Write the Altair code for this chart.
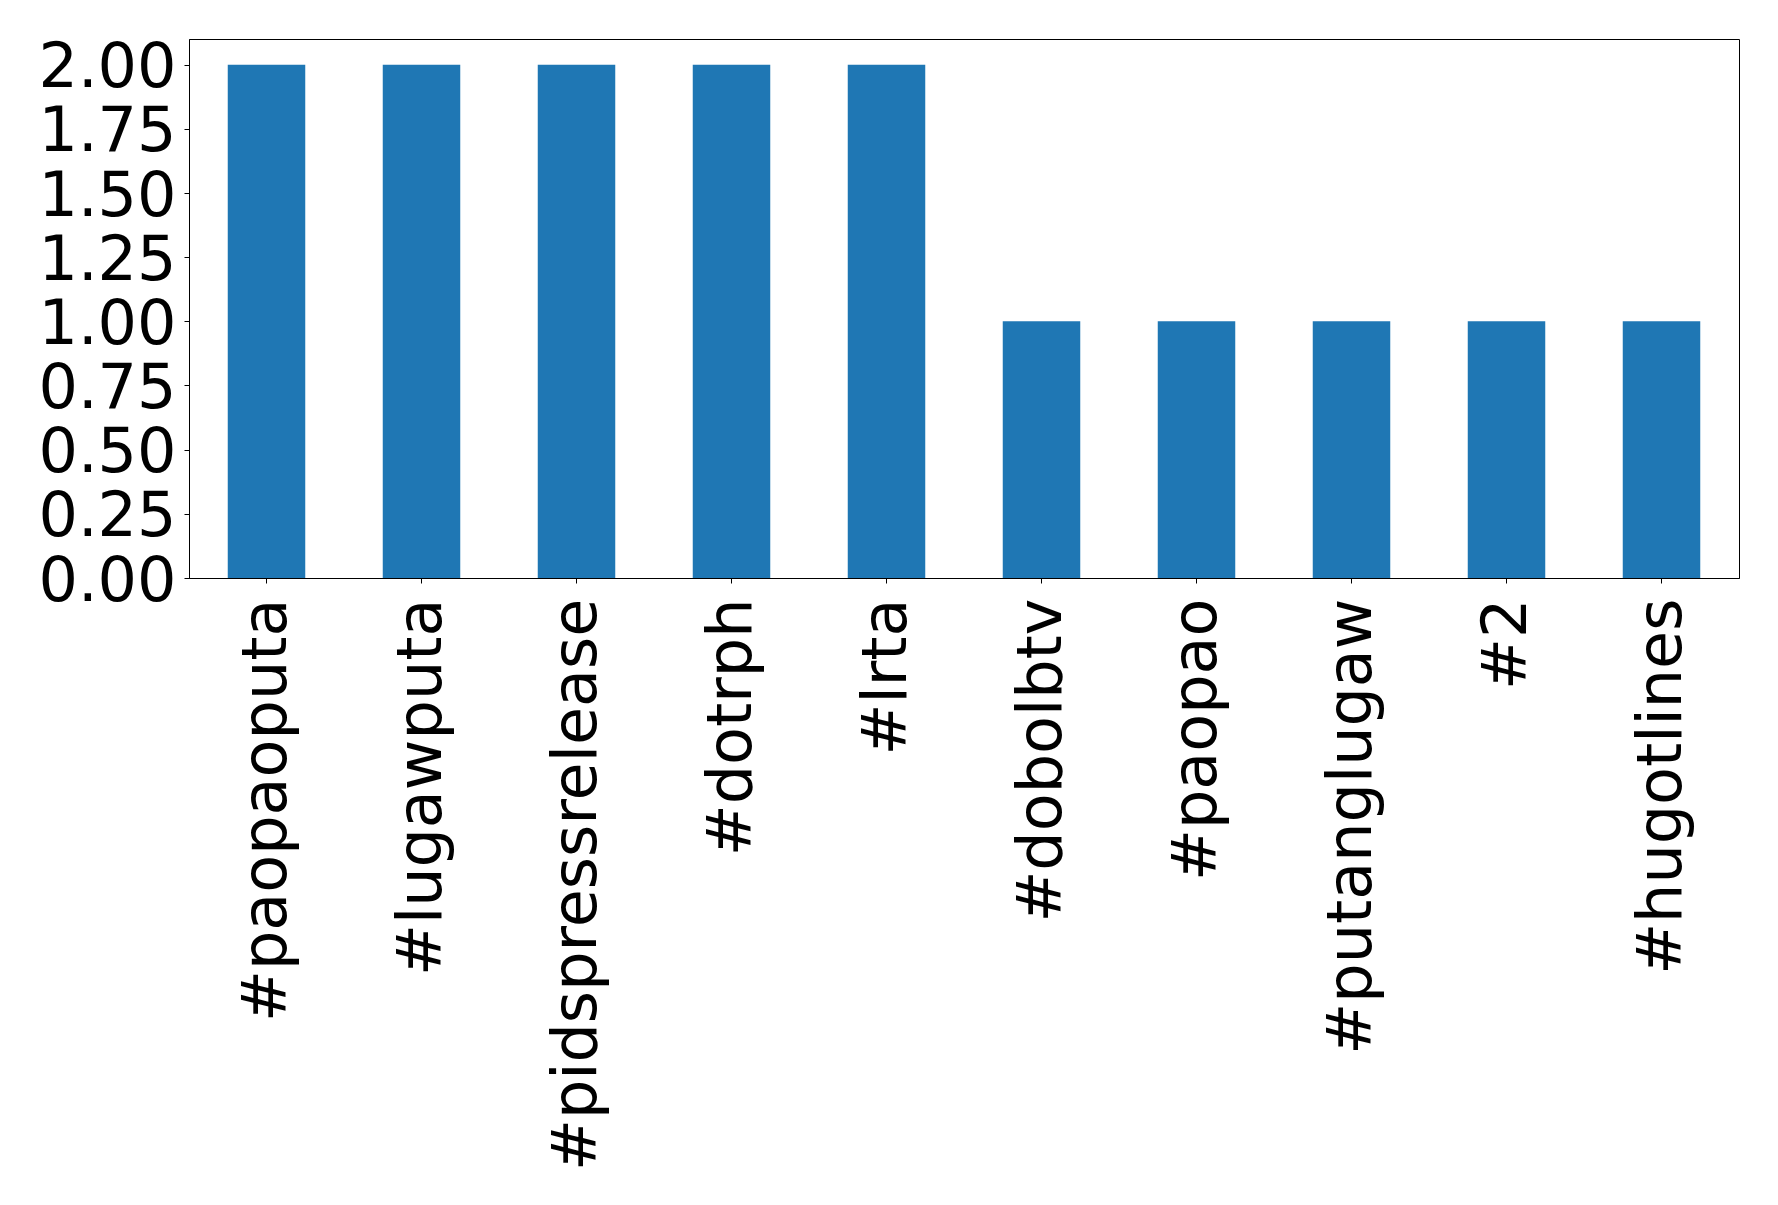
import altair as alt
import pandas as pd

tags = ["#paopaoputa", "#lugawputa", "#pidspressrelease", "#dotrph", "#lrta",
        "#dobolbtv", "#paopao", "#putanglugaw", "#2", "#hugotlines"]
counts = [2, 2, 2, 2, 2, 1, 1, 1, 1, 1]
y_ticks = [0, 0.25, 0.5, 0.75, 1.0, 1.25, 1.5, 1.75, 2.0]

df = pd.DataFrame({"tag": tags, "count": counts})

chart = alt.Chart(df).mark_bar(color="#1f77b4").encode(
    x=alt.X("tag:N", sort=tags, title=None,
            scale=alt.Scale(paddingInner=0.5, paddingOuter=0.25),
            axis=alt.Axis(labelAngle=270, labelAlign="right", labelBaseline="middle",
                          labelFontSize=62, labelPadding=15, tickSize=5,
                          labelColor="black", tickColor="black", domainColor="black",
                          labelFont="DejaVu Sans", labelOverlap=False, labelLimit=0)),
    y=alt.Y("count:Q", title=None,
            scale=alt.Scale(domain=[0, 2.1], nice=False, zero=True),
            axis=alt.Axis(values=y_ticks, format=".2f", labelFontSize=62,
                          labelPadding=8, tickSize=5, grid=False, labelOffset=3,
                          labelColor="black", tickColor="black", domainColor="black",
                          labelFont="DejaVu Sans", labelOverlap=False, labelLimit=0)),
).properties(
    width=1550, height=539,
    autosize=alt.AutoSizeParams(type="none"),
    padding={"left": 181, "top": 31, "right": 25, "bottom": 600},
).configure_view(
    stroke="black", strokeWidth=1
).configure_axis(
    domainWidth=1, tickWidth=1
)

chart.save("out.html", embed_options={"renderer": "svg", "actions": False})
